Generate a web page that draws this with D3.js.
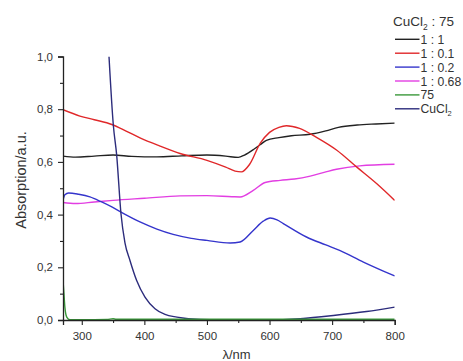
<!DOCTYPE html>
<html>
<head>
<meta charset="utf-8">
<script src="https://cdn.jsdelivr.net/npm/d3@7"></script>
<style>
  html, body { margin: 0; padding: 0; background: #fff; }
  svg { display: block; font-family: "Liberation Sans", Arial, sans-serif; }
</style>
</head>
<body>
<svg id="chart" width="463" height="361"></svg>
<script>
// UV-vis absorption spectra, CuCl2 : 75 mixtures
const xTicks = [300, 400, 500, 600, 700, 800];
const xMinorTicks = [350, 450, 550, 650, 750];
const yTicks = [0, 0.2, 0.4, 0.6, 0.8, 1.0];
const yMinorTicks = [0.1, 0.3, 0.5, 0.7, 0.9];
const yTickLabels = ["0,0", "0,2", "0,4", "0,6", "0,8", "1,0"];

const seriesNames = ["1 : 1", "1 : 0.1", "1 : 0.2", "1 : 0.68", "75", "CuCl2"];
const seriesColors = ["#222222", "#e0282a", "#3535cc", "#e23ee2", "#3a983a", "#2c2c7c"];

const wl_1_1   = [270, 290, 320, 350, 380, 420, 460, 500, 530, 550, 560, 575, 585, 595, 615, 635, 665, 690, 710, 740, 770, 800];
const abs_1_1  = [0.622, 0.618, 0.622, 0.626, 0.621, 0.619, 0.623, 0.626, 0.622, 0.617, 0.626, 0.648, 0.665, 0.682, 0.692, 0.699, 0.705, 0.718, 0.731, 0.740, 0.744, 0.747];

const wl_1_01  = [270, 297, 320, 348, 370, 393, 425, 457, 500, 530, 545, 555, 568, 585, 600, 615, 627, 648, 675, 707, 739, 771, 800];
const abs_1_01 = [0.798, 0.774, 0.760, 0.742, 0.718, 0.691, 0.660, 0.632, 0.606, 0.580, 0.565, 0.562, 0.590, 0.670, 0.712, 0.731, 0.737, 0.727, 0.693, 0.645, 0.581, 0.518, 0.454];

const wl_1_02  = [270, 273, 279, 295, 313, 330, 348, 370, 393, 420, 446, 475, 500, 537, 553, 574, 590, 601, 612, 622, 659, 690, 712, 750, 800];
const abs_1_02 = [0.455, 0.475, 0.482, 0.477, 0.467, 0.450, 0.429, 0.400, 0.372, 0.345, 0.325, 0.310, 0.302, 0.292, 0.296, 0.340, 0.375, 0.387, 0.380, 0.366, 0.315, 0.285, 0.264, 0.220, 0.167];

const wl_1_068  = [270, 290, 320, 350, 400, 457, 500, 540, 553, 574, 593, 617, 640, 665, 690, 707, 744, 800];
const abs_1_068 = [0.446, 0.442, 0.448, 0.454, 0.462, 0.471, 0.472, 0.468, 0.467, 0.492, 0.522, 0.530, 0.535, 0.546, 0.562, 0.572, 0.585, 0.591];

const wl_75  = [270, 271.5, 273, 276, 281, 300, 340, 350, 355, 400, 500, 600, 700, 800];
const abs_75 = [0.150, 0.100, 0.049, 0.011, 0.001, 0.001, 0.002, 0.005, 0.003, 0.003, 0.003, 0.003, 0.003, 0.003];

const wl_cucl2  = [343.5, 350.4, 355.8, 362.6, 369, 377, 387.7, 401, 417, 433, 452, 489, 550, 600, 649, 702, 755, 800];
const abs_cucl2 = [1.0, 0.74, 0.625, 0.404, 0.293, 0.226, 0.150, 0.087, 0.043, 0.021, 0.011, 0.002, 0.0, 0.0, 0.005, 0.017, 0.032, 0.049];

const seriesWl  = [wl_1_1, wl_1_01, wl_1_02, wl_1_068, wl_75, wl_cucl2];
const seriesAbs = [abs_1_1, abs_1_01, abs_1_02, abs_1_068, abs_75, abs_cucl2];

const svg = d3.select("#chart");
const x = d3.scaleLinear().domain([270, 800]).range([63, 394.7]);
const y = d3.scaleLinear().domain([0, 1]).range([320, 56.5]);

svg.append("defs").append("clipPath").attr("id", "plot-clip")
  .append("rect")
  .attr("x", x(270)).attr("y", y(1))
  .attr("width", x(800) - x(270)).attr("height", y(0) - y(1));

// spectra
const line = d3.line()
  .x(d => x(d[0])).y(d => y(d[1]))
  .curve(d3.curveMonotoneX);

const plot = svg.append("g").attr("clip-path", "url(#plot-clip)");
// draw order: later series on top
[0, 3, 1, 2, 5, 4].forEach(i => {
  const pts = seriesWl[i].map((w, k) => [w, seriesAbs[i][k]]);
  plot.append("path")
    .datum(pts)
    .attr("d", line)
    .attr("fill", "none")
    .attr("stroke", seriesColors[i])
    .attr("stroke-width", 1.4)
    .attr("stroke-linejoin", "round");
});

// axes
const axisColor = "#222";
svg.append("g").attr("transform", `translate(0,${y(0)})`)
  .call(d3.axisBottom(x).tickValues(xTicks).tickSize(5).tickPadding(6.5).tickFormat(d3.format("d")));
svg.append("g").attr("transform", `translate(0,${y(0)})`)
  .call(d3.axisBottom(x).tickValues(xMinorTicks).tickSize(3).tickFormat(""))
  .select(".domain").remove();

svg.append("g").attr("transform", `translate(${x(270)},0)`)
  .call(d3.axisLeft(y).tickValues(yTicks).tickSize(5).tickPadding(5)
    .tickFormat((d, i) => yTickLabels[i]));
svg.append("g").attr("transform", `translate(${x(270)},0)`)
  .call(d3.axisLeft(y).tickValues(yMinorTicks).tickSize(3).tickFormat(""))
  .select(".domain").remove();

svg.selectAll(".domain").attr("stroke", axisColor).attr("stroke-width", 1.3);
svg.selectAll(".tick line").attr("stroke", axisColor).attr("stroke-width", 1.1);
svg.selectAll(".tick text").attr("fill", "#333").style("font-size", "11.5px")
  .style("font-family", "'Liberation Sans', Arial, sans-serif");

// axis titles
svg.append("text")
  .attr("x", 236.5).attr("y", 358.5)
  .attr("text-anchor", "middle")
  .attr("fill", "#333")
  .style("font-size", "13px")
  .text("λ/nm");

svg.append("text")
  .attr("transform", "translate(25.5,180) rotate(-90)")
  .attr("text-anchor", "middle")
  .attr("fill", "#333")
  .style("font-size", "14.5px")
  .text("Absorption/a.u.");

// legend
const legend = svg.append("g");
const title = legend.append("text")
  .attr("x", 393).attr("y", 26)
  .attr("fill", "#333")
  .style("font-size", "13.5px");
title.append("tspan").text("CuCl");
title.append("tspan").attr("dy", 3.5).style("font-size", "8.5px").text("2");
title.append("tspan").attr("dy", -3.5).text(" : 75");

seriesNames.forEach((name, i) => {
  const ly = 39.3 + i * 13.9;
  legend.append("line")
    .attr("x1", 395).attr("x2", 419.5)
    .attr("y1", ly).attr("y2", ly)
    .attr("stroke", seriesColors[i]).attr("stroke-width", 1.4);
  const t = legend.append("text")
    .attr("x", 420.5).attr("y", ly + 4.5)
    .attr("fill", "#333")
    .style("font-size", "12.2px");
  if (name === "CuCl2") {
    t.append("tspan").text("CuCl");
    t.append("tspan").attr("dy", 3).style("font-size", "7.5px").text("2");
  } else {
    t.text(name);
  }
});
</script>
</body>
</html>
